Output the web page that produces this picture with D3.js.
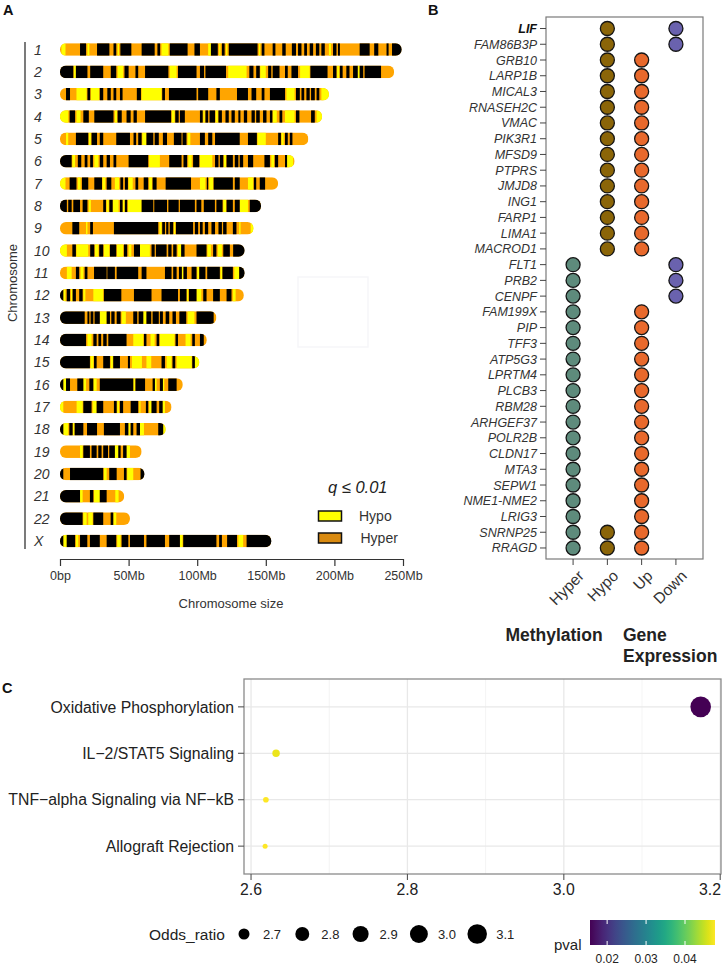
<!DOCTYPE html>
<html><head><meta charset="utf-8">
<script src="https://cdn.jsdelivr.net/npm/d3@7"></script>
<style>body{margin:0;background:#fff} svg{display:block} text{font-family:"Liberation Sans",Arial,Helvetica,sans-serif}</style>
</head><body><svg id="c" width="724" height="965"></svg>
<script>
// ---------- Panel A data ----------
const chromosomes = ["1","2","3","4","5","6","7","8","9","10","11","12","13","14","15","16","17","18","19","20","21","22","X"];
const chromLengths = [249,243.5,196,191,181,171,159,146.5,141,134.5,134.5,134,114,107,101.5,89.5,81.3,77,59.5,61.5,46.8,51,154];
const axisTicksA = [0,50,100,150,200,250];
const axisLabelsA = ["0bp","50Mb","100Mb","150Mb","200Mb","250Mb"];
// background of every chromosome = Hyper (orange); black = no signal; yellow = Hypo
const blackBands = {
 "1":[[14.6,19],[27,36],[39,41],[44,52],[59.5,69],[71,73],[80,93],[98,102],[110,115],[118,120],[123,144],[147,149],[155,157],[162,164.5],[169,172],[173.5,176],[178,180],[182,184.5],[186.5,189],[190.5,193],[199,201.5],[202.6,204],[218.4,225.7],[229,232],[238,239.5],[242,250]],
 "2":[[0,9.7],[11.6,20],[22,31.5],[37,41],[47,50],[55,57],[62,79],[86,99.5],[102,105],[106,121],[138,141],[143,145.6],[151.7,154],[155,160],[164,166],[168.7,173.5],[182.5,195],[199,201.5],[204,206],[208.7,211],[213.6,217],[218.4,221],[222,234]],
 "3":[[4.4,7.3],[20,22],[29,31.5],[34.5,37],[39,41],[43.7,45.6],[56,59],[74.5,76.5],[79.4,99.5],[100.7,108],[114,116.5],[129,137],[139.6,143],[147,149],[153,164],[172,174.8],[176,178],[179.6,182],[183,185.7],[187,189]],
 "4":[[7,11],[17,21],[25,39],[42,45],[48.5,51.5],[53.6,56],[62,81],[84,86.5],[87.4,91],[102,104],[106,108],[109,113],[115.5,118],[120.6,123],[125,127.4],[130,131.5],[134,136.4],[139.6,142],[143,145.6],[148,150.5],[153,154.8],[160,162],[172,174.5],[183,185.7]],
 "5":[[11.6,20.6],[23,27],[29,31.5],[41,51],[53.6,55.5],[57,59.5],[63,68],[69,72],[75,78],[83,88.6],[89.3,92.2],[102,105.6],[108,111],[113,131],[137,143.5],[159,161],[164,166],[167.5,169.4]],
 "6":[[0,8.5],[13,15.5],[18,20],[22,24],[29,31.5],[34,36.4],[39,41],[50,64.3],[79.6,88.6],[90,92.7],[97,101.5],[113,115.5],[116.5,119],[121.4,126],[127.4,130],[131,133.5],[137,140.8],[149,153],[156.6,159],[164,165.5]],
 "7":[[7,12],[16,20.6],[25,30.6],[34,37.4],[44,46],[47.3,49.5],[55,57],[61,64.3],[67.5,70.4],[77,95.5],[107,108],[112,126],[127.4,131],[141.3,143],[145.6,149.5]],
 "8":[[0,5],[6,8.5],[9.7,14.6],[16.5,20],[31.5,33.5],[36,38.4],[43.7,45.6],[47.3,49],[59.5,68],[68.7,78],[79,86.5],[87.4,98.3],[99.5,103],[104.8,112.9],[114,118.5],[121.4,126],[127.4,131],[138.3,147]],
 "9":[[9,14],[22,24],[39.3,71.6],[74.5,76.5],[77.4,79],[80,82.5],[84.5,97],[98.3,100.7],[102,104],[105.6,108],[110.4,113],[115.5,118],[118.9,121.4],[126,128.6]],
 "10":[[9,11.6],[22,25],[28.6,31.5],[36.4,41],[46.6,49],[53.9,58.3],[66.7,69],[69.9,77.7],[78.9,81.3],[82.5,85],[88.3,90.8],[99.5,106.8],[111.6,114],[119,123.8],[126.2,135]],
 "11":[[11.6,14],[18,20],[24.8,34],[34.5,40],[41.3,57],[59.5,63],[76.5,81.3],[82.5,85],[86.7,88.8],[90,92.5],[95.9,99.5],[101.5,106],[107.3,116.5],[118.4,126],[130.6,135]],
 "12":[[0,2.4],[4.9,7.3],[9.2,11.6],[14,16.5],[32,44.7],[53.9,66.7],[74,86],[87.4,92.2],[94,99.5],[104.4,106.8],[111.6,116.5],[121.4,125]],
 "13":[[0,18],[20,21.4],[22.3,24.3],[25.2,29],[34,36.4],[37.4,39.8],[41.3,44.2],[53.4,56.3],[57.3,60.7],[63,66.5],[67.5,72],[72.8,75],[77,79.6],[82,84.5],[87,92],[99.5,112]],
 "14":[[0,19],[24.3,26.7],[28,30],[31.5,34],[35.2,48.5],[61.2,63],[70.4,72.3],[84.2,86],[96.4,98.3],[102,104.8]],
 "15":[[0,21.8],[24.8,26.7],[31.5,36.4],[38.8,43.7],[49.5,51],[74,76.5],[82,84],[96.4,98.3]],
 "16":[[0,2.4],[4.4,7.3],[12.6,17],[21.4,24.3],[29,53.4],[55,62],[67.5,69.2],[72.8,75],[78.9,85]],
 "17":[[17,23],[26.7,31.5],[39.3,41.3],[43.7,46],[51.5,57],[62.6,64.3],[66.7,70.4],[72.3,74.8]],
 "18":[[0,2.4],[6.8,9.2],[10.7,17],[19.7,27],[32,43.7],[47.3,49.8],[51.5,53.4],[55.8,58.3],[71.6,75.2]],
 "19":[[17,21.8],[23,26.7],[27.9,30.3],[31.5,35],[35.9,40],[42.5,44.2],[46,48.5]],
 "20":[[0,2.4],[7.3,31.5],[35.9,41.3],[46.6,48.5],[58.7,63]],
 "21":[[0,14.6],[21.8,24.3],[29,34]],
 "22":[[0,16.5],[24.3,31.5],[36.9,38.8]],
 "X":[[0,2.4],[4.9,11],[14.6,19.9],[21.8,29],[34,41],[44.9,49.8],[51,61.2],[63,76.5],[79.6,87.4],[89.8,114],[116,118],[121.8,129],[136,156]]
};
const hypoBands = {
 "1":[[1,4],[20,21.4],[42,43],[74,79],[108,110],[116,117],[121,122],[145,146],[196,197.5]],
 "2":[[10,11.5],[42,46],[80,85],[122.6,136],[146,150],[175,182],[202,203.5],[217,218.4]],
 "3":[[12,19.4],[22.5,28.6],[59.5,74],[165,171],[190.5,198]],
 "4":[[0,6],[12,15],[40,41.5],[81.5,83.5],[104.5,105.5],[113.5,115],[155,158],[164,171],[187,192]],
 "5":[[4.4,6],[21,22.5],[60,63],[93,95],[144,150],[161.5,163]],
 "6":[[9,11],[25,28],[65,72.8],[93.5,96],[102,111],[119.5,121],[154,156],[165.5,170]],
 "7":[[0,4],[13,15],[31,33],[40,43],[50,53],[65,67],[102,106],[108.7,111.6],[137,140.8]],
 "8":[[21,22.5],[34,35.5],[38.4,42.7],[45.8,47],[49.5,59.5],[119,121],[131,137]],
 "9":[[19,20],[72.5,74],[83,84],[130.6,131.6],[139,142]],
 "10":[[0,5],[12,20.6],[25.5,28],[32,36],[41.5,46],[50,52],[58.3,65.5],[85.9,88.3],[107.5,110],[115,118]],
 "11":[[5,8.5],[15,17],[88.9,89.8],[100,101.3],[117,118.2],[127,130.6]],
 "12":[[2.5,4],[8,9],[17,18.5],[24.3,31.5],[92.5,93.5],[99.5,103],[126,128]],
 "13":[[29,34],[45,48],[60.7,63],[93,98]],
 "14":[[20,23],[53.4,60.7],[66,69],[72.8,83.5],[91.5,95.2]],
 "15":[[22.3,24.3],[37,38.5],[52.4,59.7],[63,66.5],[77.7,81.3],[85,96],[98.3,102]],
 "16":[[2.4,4.4],[17,19],[24.3,26.7],[53.5,54.8],[69.2,70.4],[75,76]],
 "17":[[0,2.4],[12.1,16.5],[23.8,26.7],[41.7,43],[57.8,58.7],[65,66.7],[74.8,76.5]],
 "18":[[2.4,6],[9.5,10.5],[49.9,51.3],[58.3,61.2],[75.2,78]],
 "19":[[14.6,16.5],[40,42.5],[48.5,51]],
 "20":[[32,34],[49,53.4]],
 "21":[[14.6,16.5],[24.8,29],[40.3,42.7]],
 "22":[[17,19.4],[20.6,23.8],[39,41]],
 "X":[[2.4,4.9],[11.6,13.3],[41.7,44.2],[87.4,89.3],[130,133.5]]
};
const legendA = ["Hypo","Hyper"];

// ---------- Panel B data ----------
const genes = ["LIF","FAM86B3P","GRB10","LARP1B","MICAL3","RNASEH2C","VMAC","PIK3R1","MFSD9","PTPRS","JMJD8","ING1","FARP1","LIMA1","MACROD1","FLT1","PRB2","CENPF","FAM199X","PIP","TFF3","ATP5G3","LPRTM4","PLCB3","RBM28","ARHGEF37","POLR2B","CLDN17","MTA3","SEPW1","NME1-NME2","LRIG3","SNRNP25","RRAGD"];
const geneMethylation = [["Hypo"],["Hypo"],["Hypo"],["Hypo"],["Hypo"],["Hypo"],["Hypo"],["Hypo"],["Hypo"],["Hypo"],["Hypo"],["Hypo"],["Hypo"],["Hypo"],["Hypo"],["Hyper"],["Hyper"],["Hyper"],["Hyper"],["Hyper"],["Hyper"],["Hyper"],["Hyper"],["Hyper"],["Hyper"],["Hyper"],["Hyper"],["Hyper"],["Hyper"],["Hyper"],["Hyper"],["Hyper"],["Hyper","Hypo"],["Hyper","Hypo"]];
const geneExpression = ["Down","Down","Up","Up","Up","Up","Up","Up","Up","Up","Up","Up","Up","Up","Up","Down","Down","Down","Up","Up","Up","Up","Up","Up","Up","Up","Up","Up","Up","Up","Up","Up","Up","Up"];
const statusCategories = ["Hyper","Hypo","Up","Down"];
const statusColors = ["#5e8b7c","#8b6508","#e8692c","#6a62ae"];

// ---------- Panel C data ----------
const pathways = ["Oxidative Phosphorylation","IL\u22122/STAT5 Signaling","TNF\u2212alpha Signaling via NF\u2212kB","Allograft Rejection"];
const oddsRatios = [3.175, 2.632, 2.619, 2.618];
const pvals = [0.0156, 0.0468, 0.0477, 0.0477];
const orTicks = [2.6, 2.8, 3.0, 3.2];
const orMinorTicks = [2.7, 2.9, 3.1];
const sizeLegendValues = [2.7, 2.8, 2.9, 3.0, 3.1];
const pvalTicks = [0.02, 0.03, 0.04];
</script>
<script>
const svg = d3.select("#c");
const defs = svg.append("defs");
const FONT = '"Liberation Sans",Arial,Helvetica,sans-serif';

// ================= Panel A =================
svg.append("text").attr("x",3).attr("y",15).attr("font-size",14.5).attr("font-weight","bold").attr("fill","#111").text("A");
const xA = d3.scaleLinear().domain([0,250]).range([60,403]);
const yA = d3.scalePoint().domain(chromosomes).range([49.5,541]);
const bandH = 12.6;
const colHyper = "#ffa500", colHypo = "#ffff00";

// faint frame
svg.append("rect").attr("x",298).attr("y",277).attr("width",70).attr("height",70).attr("fill","none").attr("stroke","#f6f6f9").attr("stroke-width",1.5);

const gA = svg.append("g");
chromosomes.forEach((c,i)=>{
  const L = chromLengths[i];
  const y0 = yA(c) - bandH/2;
  const id = "clipA"+i;
  defs.append("clipPath").attr("id",id).append("rect")
    .attr("x",xA(0)).attr("y",y0).attr("width",xA(L)-xA(0)).attr("height",bandH).attr("rx",6).attr("ry",6);
  const g = gA.append("g").attr("clip-path",`url(#${id})`);
  g.append("rect").attr("x",xA(0)).attr("y",y0).attr("width",xA(L)-xA(0)).attr("height",bandH).attr("fill",colHyper);
  g.selectAll("rect.hypo").data(hypoBands[c]).join("rect").attr("class","hypo")
    .attr("x",d=>xA(d[0])).attr("y",y0).attr("width",d=>Math.max(0.8,xA(d[1])-xA(d[0]))).attr("height",bandH).attr("fill",colHypo);
  g.selectAll("rect.blk").data(blackBands[c]).join("rect").attr("class","blk")
    .attr("x",d=>xA(d[0])).attr("y",y0).attr("width",d=>Math.max(0.8,xA(d[1])-xA(d[0]))).attr("height",bandH).attr("fill","#000");
  gA.append("text").attr("x",34).attr("y",yA(c)+5).attr("font-size",14).attr("font-style","italic").attr("fill","#333").text(c);
});
svg.append("line").attr("x1",25).attr("x2",25).attr("y1",42).attr("y2",549).attr("stroke","#333").attr("stroke-width",1.3);
svg.append("text").attr("transform","translate(17,283) rotate(-90)").attr("text-anchor","middle").attr("font-size",13).attr("fill","#333").text("Chromosome");

const axA = svg.append("g").attr("transform","translate(0,559)")
  .call(d3.axisBottom(xA).tickValues(axisTicksA).tickFormat((d,i)=>axisLabelsA[i]).tickSize(7).tickSizeOuter(0).tickPadding(5));
axA.select(".domain").attr("stroke","#333").attr("stroke-width",1.2);
axA.selectAll(".tick line").attr("stroke","#333").attr("stroke-width",1.2);
axA.selectAll(".tick text").attr("font-size",12.5).attr("fill","#333").attr("font-family",FONT);
svg.append("text").attr("x",231).attr("y",608).attr("text-anchor","middle").attr("font-size",13).attr("fill","#333").text("Chromosome size");

// legend A
svg.append("text").attr("x",328).attr("y",493).attr("font-size",16.5).attr("font-style","italic").attr("fill","#222").text("q \u2264 0.01");
const legColors = ["#ffff00","#d98a10"];
legendA.forEach((lab,i)=>{
  const yy = 511 + i*22;
  svg.append("rect").attr("x",318.5).attr("y",yy).attr("width",23).attr("height",10).attr("fill",legColors[i]).attr("stroke","#111").attr("stroke-width",1.5);
  svg.append("text").attr("x",359+i*1.5).attr("y",yy+10).attr("font-size",14).attr("fill","#333").text(lab);
});

// ================= Panel B =================
svg.append("text").attr("x",428).attr("y",15).attr("font-size",14.5).attr("font-weight","bold").attr("fill","#111").text("B");
const xB = d3.scalePoint().domain(statusCategories).range([546,703]).padding(0.79);
const yB = d3.scalePoint().domain(genes).range([17.5,559]).padding(0.7);
const colB = d3.scaleOrdinal().domain(statusCategories).range(statusColors);
svg.append("rect").attr("x",546).attr("y",17).attr("width",157).attr("height",542).attr("fill","none").attr("stroke","#7a7a7a").attr("stroke-width",1.2);
const gB = svg.append("g");
genes.forEach((g,i)=>{
  const y = yB(g);
  gB.append("line").attr("x1",540).attr("x2",546).attr("y1",y).attr("y2",y).attr("stroke","#444").attr("stroke-width",1);
  gB.append("text").attr("x",537).attr("y",y).attr("dy","0.36em").attr("text-anchor","end")
    .attr("font-size",12.5).attr("font-style","italic").attr("font-weight",g==="LIF"?"bold":"normal").attr("fill",g==="LIF"?"#111":"#333").text(g);
  const stats = geneMethylation[i].concat([geneExpression[i]]);
  stats.forEach(s=>{
    gB.append("circle").attr("cx",xB(s)).attr("cy",y).attr("r",7).attr("fill",colB(s)).attr("stroke","#151515").attr("stroke-width",1.3);
  });
});
statusCategories.forEach(s=>{
  const x = xB(s);
  gB.append("line").attr("x1",x).attr("x2",x).attr("y1",559).attr("y2",565).attr("stroke","#444").attr("stroke-width",1);
  gB.append("text").attr("transform",`translate(${x+4},${569}) rotate(-45)`).attr("text-anchor","end").attr("dy","0.72em")
    .attr("font-size",15.5).attr("fill","#333").text(s);
});
svg.append("text").attr("x",554).attr("y",641).attr("text-anchor","middle").attr("font-size",17.5).attr("font-weight","bold").attr("fill","#222").text("Methylation");
svg.append("text").attr("x",623).attr("y",641).attr("font-size",17.5).attr("font-weight","bold").attr("fill","#222").text("Gene");
svg.append("text").attr("x",623).attr("y",662).attr("font-size",17.5).attr("font-weight","bold").attr("fill","#222").text("Expression");

// ================= Panel C =================
svg.append("text").attr("x",2).attr("y",693).attr("font-size",14.5).attr("font-weight","bold").attr("fill","#111").text("C");
const xC = d3.scaleLinear().domain([2.591,3.201]).range([244,721]);
const yC = d3.scalePoint().domain(pathways).range([679,874]).padding(0.6);
const orMin = d3.min(oddsRatios), orMax = d3.max(oddsRatios);
const rLin = d3.scaleLinear().domain([0,1]).range([2.5,10.3]);
const rC = v => rLin(Math.sqrt(Math.max(0,(v-orMin)/(orMax-orMin))));
const colC = d3.scaleSequential(d3.interpolateViridis).domain([d3.min(pvals), d3.max(pvals)]);
const gC = svg.append("g");
orMinorTicks.forEach(t=>gC.append("line").attr("x1",xC(t)).attr("x2",xC(t)).attr("y1",679).attr("y2",874).attr("stroke","#f3f3f3").attr("stroke-width",0.9));
orTicks.forEach(t=>gC.append("line").attr("x1",xC(t)).attr("x2",xC(t)).attr("y1",679).attr("y2",874).attr("stroke","#e8e8e8").attr("stroke-width",1.3));
pathways.forEach(p=>gC.append("line").attr("x1",244).attr("x2",721).attr("y1",yC(p)).attr("y2",yC(p)).attr("stroke","#e8e8e8").attr("stroke-width",1.3));
const order = d3.range(pathways.length).sort((a,b)=>oddsRatios[b]-oddsRatios[a]);
order.forEach(i=>{
  gC.append("circle").attr("cx",xC(oddsRatios[i])).attr("cy",yC(pathways[i])).attr("r",rC(oddsRatios[i])).attr("fill",colC(pvals[i]));
});
gC.append("rect").attr("x",244).attr("y",679).attr("width",477).attr("height",195).attr("fill","none").attr("stroke","#8a8a8a").attr("stroke-width",1.3);
pathways.forEach(p=>{
  gC.append("line").attr("x1",238).attr("x2",244).attr("y1",yC(p)).attr("y2",yC(p)).attr("stroke","#555").attr("stroke-width",1.1);
  gC.append("text").attr("x",234).attr("y",yC(p)).attr("dy","0.36em").attr("text-anchor","end").attr("font-size",15.8).attr("fill","#222").text(p);
});
orTicks.forEach(t=>{
  gC.append("line").attr("x1",xC(t)).attr("x2",xC(t)).attr("y1",874).attr("y2",880).attr("stroke","#555").attr("stroke-width",1.1);
  gC.append("text").attr("x",Math.min(xC(t),710)).attr("y",895).attr("text-anchor","middle").attr("font-size",15.8).attr("fill","#222").text(d3.format(".1f")(t));
});

// size legend
svg.append("text").attr("x",149).attr("y",940).attr("font-size",15.5).attr("fill","#222").text("Odds_ratio");
sizeLegendValues.forEach((v,i)=>{
  const cx = 244 + i*58.3;
  svg.append("circle").attr("cx",cx).attr("cy",934).attr("r",rC(v)).attr("fill","#000");
  svg.append("text").attr("x",cx+19).attr("y",939).attr("font-size",13).attr("fill","#222").text(d3.format(".1f")(v));
});
// colorbar
const grad = defs.append("linearGradient").attr("id","vir").attr("x1","0%").attr("x2","100%");
d3.range(0,1.0001,0.05).forEach(t=>grad.append("stop").attr("offset",(t*100)+"%").attr("stop-color",colC(colC.domain()[0]+t*(colC.domain()[1]-colC.domain()[0]))));
svg.append("text").attr("x",554).attr("y",950).attr("font-size",15).attr("fill","#222").text("pval");
svg.append("rect").attr("x",590).attr("y",920).attr("width",125).attr("height",25).attr("fill","url(#vir)");
const xCb = d3.scaleLinear().domain(colC.domain()).range([590,715]);
pvalTicks.forEach(t=>{
  svg.append("line").attr("x1",xCb(t)).attr("x2",xCb(t)).attr("y1",920).attr("y2",924).attr("stroke","#fff").attr("stroke-width",1);
  svg.append("line").attr("x1",xCb(t)).attr("x2",xCb(t)).attr("y1",941).attr("y2",945).attr("stroke","#fff").attr("stroke-width",1);
  svg.append("text").attr("x",xCb(t)).attr("y",963).attr("text-anchor","middle").attr("font-size",12).attr("fill","#222").text(d3.format(".2f")(t));
});
</script>
</body></html>
